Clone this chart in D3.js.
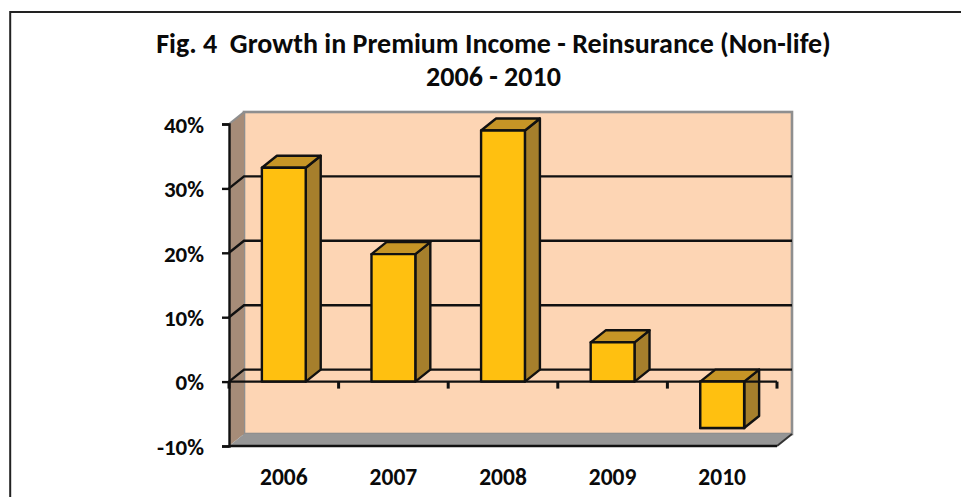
<!DOCTYPE html>
<html>
<head>
<meta charset="utf-8">
<script src="https://cdn.jsdelivr.net/npm/d3@7/dist/d3.min.js"></script>
<style>
html,body{margin:0;padding:0;background:#fff;}
svg{display:block;}
text{font-family:"Carlito","Liberation Sans",Arial,sans-serif;font-weight:700;fill:#0a0a0a;}
</style>
</head>
<body>
<svg id="chart" width="961" height="497"></svg>
<script>
const years = ["2006", "2007", "2008", "2009", "2010"];
const growth = [33.2, 19.8, 39, 6.1, -7.2];
const yTicks = [-10, 0, 10, 20, 30, 40];
const titleLines = ["Fig. 4  Growth in Premium Income - Reinsurance (Non-life)", "2006 - 2010"];

const svg = d3.select("#chart");
const depthX = 15, depthY = -12;

const x = d3.scaleBand().domain(years).range([229, 777]).paddingInner(0.6).paddingOuter(0.3);
const y = d3.scaleLinear().domain([-10, 40]).range([446, 124]);
const poly = pts => pts.map(p => p.join(",")).join(" ");
const ink = "#111";
const lineW = 2.4;

// Frame around the figure: left and top rules only
svg.append("path").attr("d", "M10.2,497V12H961").attr("fill", "none").attr("stroke", "#222").attr("stroke-width", 2);

// Title
svg.append("g").selectAll("text").data(titleLines).join("text")
  .attr("x", 493.5).attr("y", (d, i) => 52.5 + i * 33.5)
  .attr("text-anchor", "middle").attr("font-size", 28)
  .style("white-space", "pre").text(d => d);

// Back wall
svg.append("rect").attr("x", x.range()[0] + depthX).attr("y", y(40) + depthY)
  .attr("width", x.range()[1] - x.range()[0]).attr("height", y(-10) - y(40))
  .attr("fill", "#fdd5b4").attr("stroke", "#8f8f8f").attr("stroke-width", 2.6);

// Side wall and floor
svg.append("polygon").attr("points", poly([[229, y(40)], [229 + depthX, y(40) + depthY], [229 + depthX, y(-10) + depthY], [229, y(-10)]]))
  .attr("fill", "#a68c78");
svg.append("line").attr("x1", 229).attr("y1", y(40)).attr("x2", 229 + depthX).attr("y2", y(40) + depthY)
  .attr("stroke", "#8f8f8f").attr("stroke-width", 2);
svg.append("polygon").attr("points", poly([[229, y(-10)], [229 + depthX, y(-10) + depthY], [777 + depthX, y(-10) + depthY], [777, y(-10)]]))
  .attr("fill", "#969696");
svg.append("line").attr("x1", 777).attr("y1", y(-10)).attr("x2", 777 + depthX).attr("y2", y(-10) + depthY)
  .attr("stroke", "#333").attr("stroke-width", 2);

// Gridlines wrap from the side wall onto the back wall
const grid = svg.append("g").attr("fill", "none").attr("stroke", ink).attr("stroke-width", lineW);
grid.selectAll("path").data(yTicks.filter(t => t > -10 && t < 40)).join("path")
  .attr("d", t => `M229,${y(t)}L${229 + depthX},${y(t) + depthY}H${777 + depthX}`);

// Columns drawn as side, top and front faces
const bars = svg.append("g").attr("stroke", ink).attr("stroke-width", lineW).attr("stroke-linejoin", "round");
years.forEach((yr, i) => {
  const v = growth[i];
  const l = x(yr), r = l + x.bandwidth();
  const t = y(Math.max(v, 0)), b = y(Math.min(v, 0));
  bars.append("polygon").attr("points", poly([[r, t], [r + depthX, t + depthY], [r + depthX, b + depthY], [r, b]])).attr("fill", "#a67f2c");
  bars.append("polygon").attr("points", poly([[l, t], [l + depthX, t + depthY], [r + depthX, t + depthY], [r, t]])).attr("fill", "#c69526");
  bars.append("rect").attr("x", l).attr("y", t).attr("width", r - l).attr("height", b - t).attr("fill", "#ffc010");
});

// Axes on the front plane; the category axis sits at zero, its labels at the bottom
const yAxis = d3.axisLeft(y).tickValues(yTicks).tickSize(7).tickFormat(d => d + "%");
const yG = svg.append("g").attr("transform", "translate(229,0)").call(yAxis);
yG.selectAll("path,line").attr("stroke", ink).attr("stroke-width", lineW);
yG.selectAll("text").attr("font-size", 23).attr("x", -25).attr("dy", "0.36em").attr("fill", "#0a0a0a");

const edges = d3.range(years.length + 1).map(i => 229 + i * x.step());
svg.append("g").attr("stroke", ink).attr("stroke-width", lineW).call(g => {
  g.append("line").attr("x1", 229).attr("x2", 777).attr("y1", y(0)).attr("y2", y(0));
  g.selectAll(".mark").data(edges).join("line").attr("class", "mark")
    .attr("stroke-width", 3)
    .attr("x1", d => d).attr("x2", d => d).attr("y1", y(0)).attr("y2", y(0) + 7);
});

// The last column stays in front of the zero line
const lastL = x(years[4]), lastR = lastL + x.bandwidth();
svg.append("rect").attr("x", lastL).attr("y", y(0)).attr("width", lastR - lastL).attr("height", y(growth[4]) - y(0))
  .attr("fill", "#ffc010").attr("stroke", ink).attr("stroke-width", lineW);

// Bottom edge of the floor
svg.append("line").attr("x1", 229).attr("x2", 777).attr("y1", y(-10)).attr("y2", y(-10)).attr("stroke", ink).attr("stroke-width", lineW);

svg.append("g").selectAll("text").data(years).join("text")
  .attr("x", d => x(d) + x.bandwidth() / 2).attr("y", 485)
  .attr("text-anchor", "middle").attr("font-size", 23.5).text(d => d);
</script>
</body>
</html>
